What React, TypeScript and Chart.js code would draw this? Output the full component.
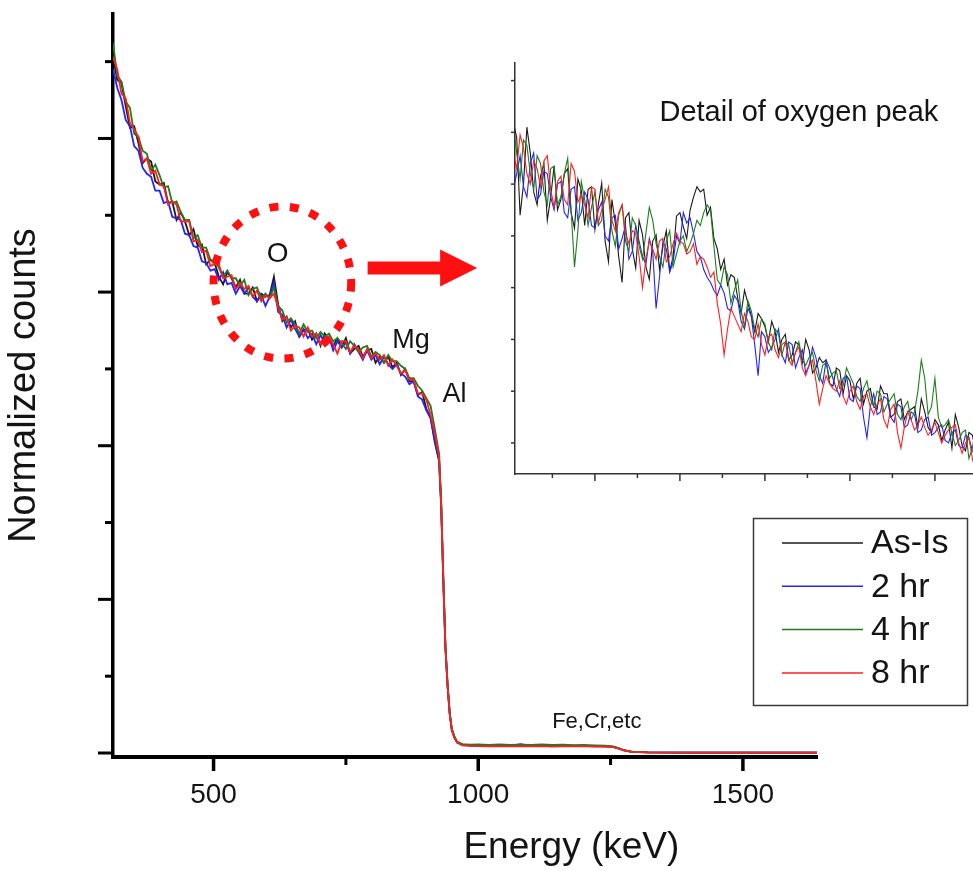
import React, { useEffect, useRef } from "react";
import { Chart, registerables } from "chart.js";

Chart.register(...registerables);

const FONT = "'Liberation Sans', Arial, Helvetica, sans-serif";
const INK = "#141414";

// ---------------- series identity ----------------
const SERIES_LABELS = ["As-Is", "2 hr", "4 hr", "8 hr"];
const SERIES_COLORS = ["#1a1a1a", "#2323ff", "#1b7f1b", "#ff1f1f"];

// ---------------- main spectrum (keV, normalized counts) ----------------
const MAIN_ENERGY_PLATEAU = [
  310, 318, 326, 334, 342, 350, 358, 366, 374, 382, 390, 398, 406, 414, 422, 430, 438, 446, 454, 462,
  470, 478, 486, 494, 502, 510, 518, 526, 534, 542, 550, 558, 566, 574, 582, 590, 598, 606, 614, 622,
  630, 638, 646, 654, 662, 670, 678, 686, 694, 702, 710, 718, 726, 734, 742, 750, 758, 766, 774, 782,
  790, 798, 806, 814, 822, 830, 838, 846, 854, 862, 870, 878, 886, 894, 902, 910, 918, 926,
];
const MAIN_ENERGY_EDGE = [
  930, 934, 938, 942, 946, 950, 955, 960, 970, 985, 1000, 1020, 1040, 1060, 1080, 1100, 1120, 1140,
  1160, 1180, 1200, 1220, 1240, 1255, 1265, 1275, 1290, 1320, 1400, 1500, 1640,
];

const AS_IS_PLATEAU = [
  4.54, 4.38, 4.36, 4.21, 4.07, 4.08, 3.97, 3.84, 3.87, 3.85, 3.72, 3.70, 3.71, 3.58, 3.59, 3.47, 3.52, 3.46, 3.37, 3.41,
  3.30, 3.31, 3.18, 3.21, 3.19, 3.10, 3.05, 3.13, 3.09, 3.03, 3.08, 2.99, 2.99, 3.03, 2.94, 2.99, 2.97, 2.98, 3.10, 2.92,
  2.81, 2.84, 2.77, 2.81, 2.71, 2.75, 2.76, 2.69, 2.73, 2.65, 2.73, 2.69, 2.65, 2.70, 2.64, 2.70, 2.60, 2.63, 2.65, 2.58,
  2.62, 2.63, 2.54, 2.58, 2.54, 2.58, 2.51, 2.54, 2.46, 2.50, 2.42, 2.42, 2.33, 2.35, 2.24, 2.18, 2.02, 1.90,
];
const HR2_PLATEAU = [
  4.45, 4.33, 4.25, 4.12, 4.08, 3.95, 3.92, 3.81, 3.77, 3.75, 3.66, 3.66, 3.58, 3.59, 3.49, 3.48, 3.47, 3.38, 3.37, 3.30,
  3.29, 3.20, 3.19, 3.14, 3.15, 3.08, 3.13, 3.05, 3.06, 2.99, 3.04, 2.99, 3.03, 2.97, 2.94, 2.98, 2.91, 2.97, 3.06, 2.87,
  2.85, 2.77, 2.82, 2.76, 2.71, 2.76, 2.70, 2.73, 2.66, 2.72, 2.67, 2.71, 2.62, 2.68, 2.64, 2.67, 2.60, 2.66, 2.61, 2.56,
  2.62, 2.56, 2.59, 2.53, 2.58, 2.53, 2.50, 2.53, 2.47, 2.45, 2.40, 2.42, 2.32, 2.30, 2.23, 2.18, 2.04, 1.91,
];
const HR4_PLATEAU = [
  4.62, 4.41, 4.37, 4.24, 4.20, 4.03, 4.01, 3.92, 3.90, 3.79, 3.83, 3.76, 3.68, 3.69, 3.58, 3.59, 3.52, 3.47, 3.47, 3.35,
  3.37, 3.29, 3.29, 3.21, 3.20, 3.16, 3.10, 3.14, 3.09, 3.09, 3.04, 3.08, 2.98, 3.02, 3.03, 2.96, 2.99, 2.96, 3.03, 2.91,
  2.88, 2.80, 2.83, 2.79, 2.73, 2.79, 2.74, 2.75, 2.70, 2.74, 2.71, 2.73, 2.68, 2.70, 2.67, 2.63, 2.68, 2.65, 2.61, 2.64,
  2.65, 2.58, 2.61, 2.59, 2.54, 2.59, 2.55, 2.55, 2.52, 2.50, 2.44, 2.44, 2.39, 2.36, 2.31, 2.26, 2.11, 1.95,
];
const HR8_PLATEAU = [
  4.53, 4.45, 4.29, 4.26, 4.10, 4.06, 4.01, 3.85, 3.87, 3.77, 3.79, 3.70, 3.69, 3.57, 3.59, 3.57, 3.46, 3.46, 3.46, 3.33,
  3.34, 3.26, 3.27, 3.17, 3.18, 3.18, 3.09, 3.10, 3.11, 3.02, 3.06, 3.02, 3.04, 2.97, 3.01, 2.94, 2.98, 2.96, 2.99, 2.90,
  2.82, 2.84, 2.75, 2.78, 2.77, 2.71, 2.77, 2.71, 2.73, 2.66, 2.70, 2.71, 2.66, 2.60, 2.68, 2.68, 2.61, 2.65, 2.63, 2.57,
  2.63, 2.57, 2.60, 2.56, 2.59, 2.52, 2.56, 2.52, 2.47, 2.49, 2.43, 2.43, 2.34, 2.34, 2.30, 2.20, 2.08, 1.93,
];

const AS_IS_EDGE = [
  1.60, 1.12, 0.68, 0.44, 0.26, 0.15, 0.10, 0.07, 0.055, 0.05, 0.048, 0.05, 0.047, 0.05, 0.046, 0.049, 0.047, 0.048,
  0.046, 0.048, 0.045, 0.046, 0.043, 0.04, 0.03, 0.018, 0.008, 0.004, 0.003, 0.003, 0.003,
];
const HR2_EDGE = [
  1.62, 1.14, 0.70, 0.45, 0.26, 0.16, 0.10, 0.07, 0.052, 0.048, 0.05, 0.047, 0.05, 0.046, 0.058, 0.047, 0.048, 0.045,
  0.047, 0.046, 0.047, 0.044, 0.045, 0.04, 0.03, 0.017, 0.008, 0.004, 0.003, 0.003, 0.003,
];
const HR4_EDGE = [
  1.64, 1.15, 0.70, 0.45, 0.27, 0.16, 0.11, 0.075, 0.058, 0.055, 0.056, 0.052, 0.056, 0.053, 0.055, 0.052, 0.056, 0.052,
  0.054, 0.051, 0.053, 0.05, 0.048, 0.043, 0.032, 0.018, 0.009, 0.004, 0.003, 0.003, 0.003,
];
const HR8_EDGE = [
  1.62, 1.13, 0.69, 0.44, 0.26, 0.15, 0.10, 0.068, 0.05, 0.046, 0.045, 0.044, 0.045, 0.043, 0.044, 0.043, 0.045, 0.042,
  0.044, 0.043, 0.044, 0.042, 0.042, 0.038, 0.029, 0.017, 0.008, 0.004, 0.003, 0.003, 0.003,
];

const MAIN_X_RANGE = [310, 1640];
const MAIN_Y_RANGE = [-0.026, 4.81];
const MAIN_X_MAJOR = [500, 1000, 1500];
const MAIN_X_MINOR = [750, 1250];
const MAIN_Y_MAJOR = [0, 1, 2, 3, 4];
const MAIN_Y_MINOR = [0.5, 1.5, 2.5, 3.5, 4.5];

// ---------------- inset: detail of the oxygen peak (channels read in two interleaved sets) ----------------
const INSET_ENERGY_A = [
  502, 506, 510, 514, 518, 522, 526, 530, 534, 538, 542, 546, 550, 554, 558, 562, 566, 570, 574, 578,
  582, 586, 590, 594, 598, 602, 606, 610, 614, 618, 622, 626, 630, 634, 638, 642, 646, 650, 654, 658,
  662, 666, 670, 674, 678, 682, 686, 690, 694, 698, 702, 706, 710, 714, 718, 722, 726, 730, 734, 738,
  742, 746, 750, 754, 758, 762, 766, 770, 774,
];
const INSET_AS_IS_A = [
  7.2, 5.4, 7.1, 5.85, 6.15, 5.3, 6.35, 5.7, 6.3, 5.15, 5.88, 5.9, 5.12, 6.02, 4.5, 5.25, 4.1, 5.45, 4.38, 5.02,
  4.16, 5.02, 4.8, 4.32, 5.38, 5.18, 5.5, 5.95, 5.9, 5.55, 4.75, 4.55, 4.25, 3.8, 3.95, 3.45, 3.5, 3.25, 3.35, 2.75,
  3.1, 2.7, 2.9, 3.0, 2.35, 2.65, 2.6, 2.1, 2.4, 2.3, 1.85, 2.25, 2.0, 1.7, 2.1, 1.95, 1.55, 1.85, 1.6, 1.7,
  1.85, 1.3, 1.45, 1.05, 1.4, 1.55, 0.95, 1.2, 0.85,
];
const INSET_HR2_A = [
  5.9, 6.55, 5.75, 6.6, 5.8, 6.2, 5.5, 6.05, 5.35, 5.95, 5.45, 5.7, 5.15, 5.65, 4.9, 5.4, 4.95, 4.55, 5.2, 4.6,
  4.95, 3.6, 4.9, 4.3, 5.0, 5.45, 5.35, 4.7, 4.35, 4.1, 3.85, 3.9, 3.55, 3.75, 3.2, 3.45, 2.3, 3.05, 2.85, 3.2,
  2.55, 2.9, 2.65, 2.35, 2.85, 2.3, 2.6, 2.25, 1.9, 2.3, 1.8, 2.05, 1.1, 1.95, 1.6, 1.85, 1.4, 1.7, 1.35, 1.55,
  1.25, 1.5, 1.2, 1.35, 1.0, 1.25, 0.9, 1.1, 0.75,
];
const INSET_HR4_A = [
  7.15, 6.1, 6.75, 5.9, 6.4, 5.6, 6.35, 5.75, 6.5, 4.4, 6.05, 5.2, 5.85, 5.3, 5.75, 4.8, 5.6, 4.7, 5.2, 4.55,
  5.55, 4.85, 4.4, 5.1, 4.65, 5.0, 4.85, 5.3, 5.45, 5.5, 4.15, 4.4, 3.7, 4.15, 3.25, 3.55, 3.05, 3.3, 2.8, 3.1,
  2.95, 2.55, 2.95, 2.5, 2.75, 2.2, 2.55, 2.35, 2.05, 2.45, 2.15, 1.8, 2.2, 1.7, 1.95, 1.75, 1.95, 1.45, 1.8, 1.6,
  2.6, 1.55, 2.25, 1.3, 1.45, 0.95, 1.2, 0.7, 1.3,
];
const INSET_HR8_A = [
  6.6, 6.95, 6.2, 6.45, 5.95, 6.55, 5.55, 6.15, 5.6, 6.25, 5.8, 5.35, 5.9, 5.5, 5.95, 5.1, 5.6, 4.85, 5.05, 4.0,
  4.9, 4.55, 4.95, 4.6, 5.05, 4.85, 4.7, 4.45, 4.55, 4.2, 3.7, 2.7, 3.6, 3.3, 3.5, 3.05, 3.3, 2.7, 3.1, 2.65,
  2.95, 2.5, 2.85, 2.3, 2.6, 1.75, 2.3, 2.05, 2.2, 1.75, 2.1, 1.65, 1.95, 1.55, 1.85, 1.3, 1.75, 0.9, 1.6, 1.25,
  1.5, 1.15, 1.4, 1.0, 1.25, 1.35, 0.8, 1.1, 0.45,
];

const INSET_ENERGY_B = [
  504, 508, 512, 516, 520, 524, 528, 532, 536, 540, 544, 548, 552, 556, 560, 564, 568, 572, 576, 580,
  584, 588, 592, 596, 600, 604, 608, 612, 616, 620, 624, 628, 632, 636, 640, 644, 648, 652, 656, 660,
  664, 668, 672, 676, 680, 684, 688, 692, 696, 700, 704, 708, 712, 716, 720, 724, 728, 732, 736, 740,
  744, 748, 752, 756, 760, 764, 768, 772,
];
const INSET_AS_IS_B = [
  6.9, 6.0, 6.6, 5.6, 6.4, 5.75, 5.5, 6.2, 5.45, 6.1, 5.2, 5.95, 5.6, 4.9, 5.7, 4.6, 5.35, 4.75, 5.3, 4.4,
  4.9, 4.35, 5.1, 4.6, 5.45, 4.95, 5.75, 5.85, 5.4, 4.95, 4.35, 4.05, 4.2, 3.5, 3.7, 3.15, 3.4, 2.95, 3.15, 3.0,
  2.6, 2.95, 2.55, 2.8, 2.45, 2.55, 2.15, 2.45, 1.95, 2.2, 2.15, 1.75, 2.05, 1.65, 1.95, 1.5, 1.8, 1.45, 1.65, 1.3,
  1.6, 1.2, 1.35, 1.25, 0.9, 1.3, 0.85, 1.15,
];
const INSET_HR2_B = [
  6.2, 5.95, 6.4, 5.7, 6.25, 5.75, 6.0, 5.45, 5.9, 5.3, 5.85, 5.2, 5.5, 5.0, 5.35, 4.75, 5.2, 4.7, 4.9, 4.45,
  4.7, 4.2, 4.75, 4.5, 4.85, 5.25, 5.05, 4.6, 4.2, 3.95, 4.05, 3.6, 3.85, 3.35, 3.6, 2.9, 3.15, 2.75, 3.0, 2.7,
  2.95, 2.45, 2.8, 2.5, 2.65, 2.15, 2.45, 2.05, 2.25, 1.85, 2.1, 1.5, 1.7, 1.55, 1.9, 1.5, 1.75, 1.3, 1.6, 1.2,
  1.45, 1.15, 1.3, 1.05, 1.2, 0.95, 1.15, 0.85,
];
const INSET_HR4_B = [
  6.6, 6.85, 6.2, 6.55, 5.85, 6.3, 5.6, 6.2, 5.5, 5.1, 5.7, 5.55, 5.2, 5.9, 5.1, 5.4, 4.9, 5.35, 4.8, 5.05,
  5.3, 4.6, 4.9, 4.4, 4.9, 4.7, 5.05, 5.2, 5.6, 4.8, 4.05, 4.25, 3.95, 3.55, 3.75, 3.2, 3.4, 2.95, 3.2, 2.7,
  2.9, 2.75, 2.6, 2.65, 2.4, 2.5, 2.25, 2.4, 2.1, 2.3, 1.9, 2.05, 1.85, 2.0, 1.6, 1.85, 1.55, 1.7, 1.45, 2.0,
  2.25, 1.7, 1.5, 1.35, 1.2, 1.05, 1.25, 0.9,
];
const INSET_HR8_B = [
  6.3, 6.7, 6.0, 6.3, 6.45, 5.9, 6.05, 5.7, 6.4, 5.65, 5.6, 5.95, 5.25, 5.7, 5.3, 5.45, 5.05, 5.1, 4.6, 4.55,
  4.75, 4.9, 4.5, 4.85, 4.9, 4.65, 4.85, 4.6, 4.4, 4.3, 3.3, 3.2, 3.45, 3.15, 3.35, 3.0, 2.9, 3.05, 2.8, 2.9,
  2.6, 2.75, 2.45, 2.5, 2.2, 2.05, 2.15, 2.0, 1.9, 2.0, 1.8, 1.9, 1.7, 1.75, 1.45, 1.65, 1.2, 1.3, 1.45, 1.35,
  1.3, 1.25, 1.2, 1.15, 1.3, 1.0, 1.0, 0.7,
];

const INSET_X_RANGE = [503, 772.4];
const INSET_Y_RANGE = [0.4, 8.34];
const INSET_X_MAJOR = [550, 600, 650, 700, 750];
const INSET_X_MINOR = [525, 575, 625, 675, 725];
const INSET_Y_TICKS = [1, 2, 3, 4, 5, 6, 7, 8];

// ---------------- annotations (data coordinates) ----------------
const PEAK_LABELS = [
  { text: "O", x: 621, y: 3.244, size: 28 },
  { text: "Mg", x: 873, y: 2.684, size: 27 },
  { text: "Al", x: 955, y: 2.332, size: 27 },
  { text: "Fe,Cr,etc", x: 1224, y: 0.202, size: 22 },
];
const OXYGEN_CIRCLE = { x: 630, y: 3.062, dx: 130, dy: 0.495 };
const OXYGEN_ARROW = { from: 791, headStart: 928, to: 998, y: 3.156 };

function drawTickMarks(chart: any, id: string, values: number[], len: number, width: number, color: string) {
  const s = chart.scales[id];
  const ctx = chart.ctx;
  ctx.save();
  ctx.strokeStyle = color;
  ctx.lineWidth = width;
  ctx.lineCap = "butt";
  values.forEach((v) => {
    const p = s.getPixelForValue(v);
    ctx.beginPath();
    if (s.isHorizontal()) {
      ctx.moveTo(p, s.top);
      ctx.lineTo(p, s.top + len);
    } else {
      ctx.moveTo(s.right, p);
      ctx.lineTo(s.right - len, p);
    }
    ctx.stroke();
  });
  ctx.restore();
}

function toPoints(xs: number[], ys: number[]) {
  return xs.map((x, j) => ({ x, y: ys[j] }));
}

function makeDatasets(pointSets: { x: number; y: number }[][], width: number) {
  return SERIES_LABELS.map((label, i) => ({
    label,
    data: pointSets[i],
    borderColor: SERIES_COLORS[i],
    backgroundColor: SERIES_COLORS[i],
    borderWidth: width,
    pointRadius: 0,
    fill: false,
    tension: 0,
    order: SERIES_LABELS.length - 1 - i,
  }));
}

const mainDecor = {
  id: "mainDecor",
  afterDraw(chart: any) {
    const ctx = chart.ctx;
    const xs = chart.scales.x;
    const ys = chart.scales.y;
    drawTickMarks(chart, "x", MAIN_X_MAJOR, 14, 3.5, "#000");
    drawTickMarks(chart, "x", MAIN_X_MINOR, 8, 3, "#000");
    drawTickMarks(chart, "y", MAIN_Y_MAJOR, 15, 3, "#000");
    drawTickMarks(chart, "y", MAIN_Y_MINOR, 8, 3, "#000");

    ctx.save();
    ctx.fillStyle = INK;
    ctx.textAlign = "center";
    ctx.textBaseline = "middle";
    ctx.font = `37px ${FONT}`;
    ctx.fillText("Energy (keV)", xs.getPixelForValue(1176), xs.bottom - 23);

    PEAK_LABELS.forEach((l) => {
      ctx.font = `${l.size}px ${FONT}`;
      ctx.fillText(l.text, xs.getPixelForValue(l.x), ys.getPixelForValue(l.y));
    });

    const cx = xs.getPixelForValue(OXYGEN_CIRCLE.x);
    const cy = ys.getPixelForValue(OXYGEN_CIRCLE.y);
    const rx = xs.getPixelForValue(OXYGEN_CIRCLE.x + OXYGEN_CIRCLE.dx) - cx;
    const ry = cy - ys.getPixelForValue(OXYGEN_CIRCLE.y + OXYGEN_CIRCLE.dy);
    ctx.strokeStyle = "#ff1010";
    ctx.lineWidth = 8;
    ctx.setLineDash([9, 11.5]);
    ctx.beginPath();
    ctx.ellipse(cx, cy, rx, ry, 0, 0, Math.PI * 2);
    ctx.stroke();
    ctx.setLineDash([]);

    const ax0 = xs.getPixelForValue(OXYGEN_ARROW.from);
    const ax1 = xs.getPixelForValue(OXYGEN_ARROW.headStart);
    const ax2 = xs.getPixelForValue(OXYGEN_ARROW.to);
    const ay = ys.getPixelForValue(OXYGEN_ARROW.y);
    ctx.fillStyle = "#ff1010";
    ctx.beginPath();
    ctx.moveTo(ax0, ay - 6.5);
    ctx.lineTo(ax1, ay - 6.5);
    ctx.lineTo(ax1, ay - 18.5);
    ctx.lineTo(ax2, ay);
    ctx.lineTo(ax1, ay + 18.5);
    ctx.lineTo(ax1, ay + 6.5);
    ctx.lineTo(ax0, ay + 6.5);
    ctx.closePath();
    ctx.fill();

    ctx.strokeStyle = "#3a3a3a";
    ctx.lineWidth = 1.5;
    ctx.strokeRect(753.5, 518.5, 214, 187);
    chart.data.datasets.forEach((ds: any, i: number) => {
      const yRow = 543 + i * 43.3;
      ctx.strokeStyle = ds.borderColor;
      ctx.lineWidth = 1.5;
      ctx.beginPath();
      ctx.moveTo(782, yRow);
      ctx.lineTo(863, yRow);
      ctx.stroke();
      ctx.fillStyle = INK;
      ctx.textAlign = "left";
      ctx.font = `34px ${FONT}`;
      ctx.fillText(ds.label, 871, yRow + 1);
    });
    ctx.restore();
  },
};

const insetDecor = {
  id: "insetDecor",
  afterDraw(chart: any) {
    const ctx = chart.ctx;
    drawTickMarks(chart, "x", INSET_X_MAJOR, 7, 1.5, "#333");
    drawTickMarks(chart, "x", INSET_X_MINOR, 4, 1.5, "#333");
    drawTickMarks(chart, "y", INSET_Y_TICKS, 4, 1.5, "#333");
    ctx.save();
    ctx.fillStyle = INK;
    ctx.textAlign = "center";
    ctx.textBaseline = "middle";
    ctx.font = `29px ${FONT}`;
    ctx.fillText("Detail of oxygen peak", chart.scales.x.getPixelForValue(670), chart.scales.y.getPixelForValue(7.38));
    ctx.restore();
  },
};

export default function App() {
  const mainRef = useRef<HTMLCanvasElement>(null);
  const insetRef = useRef<HTMLCanvasElement>(null);

  useEffect(() => {
    const mainEnergy = [...MAIN_ENERGY_PLATEAU, ...MAIN_ENERGY_EDGE];
    const mainPoints = [
      toPoints(mainEnergy, [...AS_IS_PLATEAU, ...AS_IS_EDGE]),
      toPoints(mainEnergy, [...HR2_PLATEAU, ...HR2_EDGE]),
      toPoints(mainEnergy, [...HR4_PLATEAU, ...HR4_EDGE]),
      toPoints(mainEnergy, [...HR8_PLATEAU, ...HR8_EDGE]),
    ];
    const main = new Chart(mainRef.current as HTMLCanvasElement, {
      type: "line",
      data: { datasets: makeDatasets(mainPoints, 1.8) as any },
      options: {
        responsive: false,
        animation: false,
        events: [],
        layout: { padding: { left: 0, top: 14, right: 156, bottom: 0 } },
        plugins: { legend: { display: false }, tooltip: { enabled: false } },
        scales: {
          x: {
            type: "linear",
            position: "bottom",
            min: MAIN_X_RANGE[0],
            max: MAIN_X_RANGE[1],
            afterFit: (s: any) => {
              s.height = 114;
            },
            afterBuildTicks: (s: any) => {
              s.ticks = MAIN_X_MAJOR.map((v) => ({ value: v }));
            },
            grid: { display: false, drawTicks: false },
            border: { display: true, width: 4, color: "#000" },
            ticks: {
              font: { family: FONT, size: 28, lineHeight: 1 },
              color: INK,
              padding: 24,
              maxRotation: 0,
              autoSkip: false,
              callback: (v: any) => String(v),
            },
          },
          y: {
            type: "linear",
            min: MAIN_Y_RANGE[0],
            max: MAIN_Y_RANGE[1],
            afterFit: (s: any) => {
              s.width = 113;
            },
            grid: { display: false, drawTicks: false },
            border: { display: true, width: 3.5, color: "#000" },
            ticks: { display: false },
            title: {
              display: true,
              text: "Normalized counts",
              color: INK,
              font: { family: FONT, size: 38, lineHeight: 1 },
              padding: { top: 6, bottom: 0 },
            },
          },
        },
      } as any,
      plugins: [mainDecor],
    });

    const byEnergy = (a: { x: number }, b: { x: number }) => a.x - b.x;
    const insetPoints = [
      [...toPoints(INSET_ENERGY_A, INSET_AS_IS_A), ...toPoints(INSET_ENERGY_B, INSET_AS_IS_B)].sort(byEnergy),
      [...toPoints(INSET_ENERGY_A, INSET_HR2_A), ...toPoints(INSET_ENERGY_B, INSET_HR2_B)].sort(byEnergy),
      [...toPoints(INSET_ENERGY_A, INSET_HR4_A), ...toPoints(INSET_ENERGY_B, INSET_HR4_B)].sort(byEnergy),
      [...toPoints(INSET_ENERGY_A, INSET_HR8_A), ...toPoints(INSET_ENERGY_B, INSET_HR8_B)].sort(byEnergy),
    ];
    const inset = new Chart(insetRef.current as HTMLCanvasElement, {
      type: "line",
      data: { datasets: makeDatasets(insetPoints, 1.1) as any },
      options: {
        responsive: false,
        animation: false,
        events: [],
        layout: { padding: { left: 0, top: 23, right: 0, bottom: 0 } },
        plugins: { legend: { display: false }, tooltip: { enabled: false } },
        scales: {
          x: {
            type: "linear",
            min: INSET_X_RANGE[0],
            max: INSET_X_RANGE[1],
            afterFit: (s: any) => {
              s.height = 26;
            },
            grid: { display: false, drawTicks: false },
            border: { display: true, width: 1.5, color: "#333" },
            ticks: { display: false },
          },
          y: {
            type: "linear",
            min: INSET_Y_RANGE[0],
            max: INSET_Y_RANGE[1],
            afterFit: (s: any) => {
              s.width = 45;
            },
            grid: { display: false, drawTicks: false },
            border: { display: true, width: 1.5, color: "#333" },
            ticks: { display: false },
          },
        },
      } as any,
      plugins: [insetDecor],
    });

    return () => {
      main.destroy();
      inset.destroy();
    };
  }, []);

  return (
    <div style={{ position: "absolute", left: 0, top: 0, width: 973, height: 871, background: "#fff" }}>
      <canvas ref={mainRef} width={973} height={871} style={{ position: "absolute", left: 0, top: 0 }} />
      <canvas ref={insetRef} width={503} height={460} style={{ position: "absolute", left: 470, top: 40 }} />
    </div>
  );
}
